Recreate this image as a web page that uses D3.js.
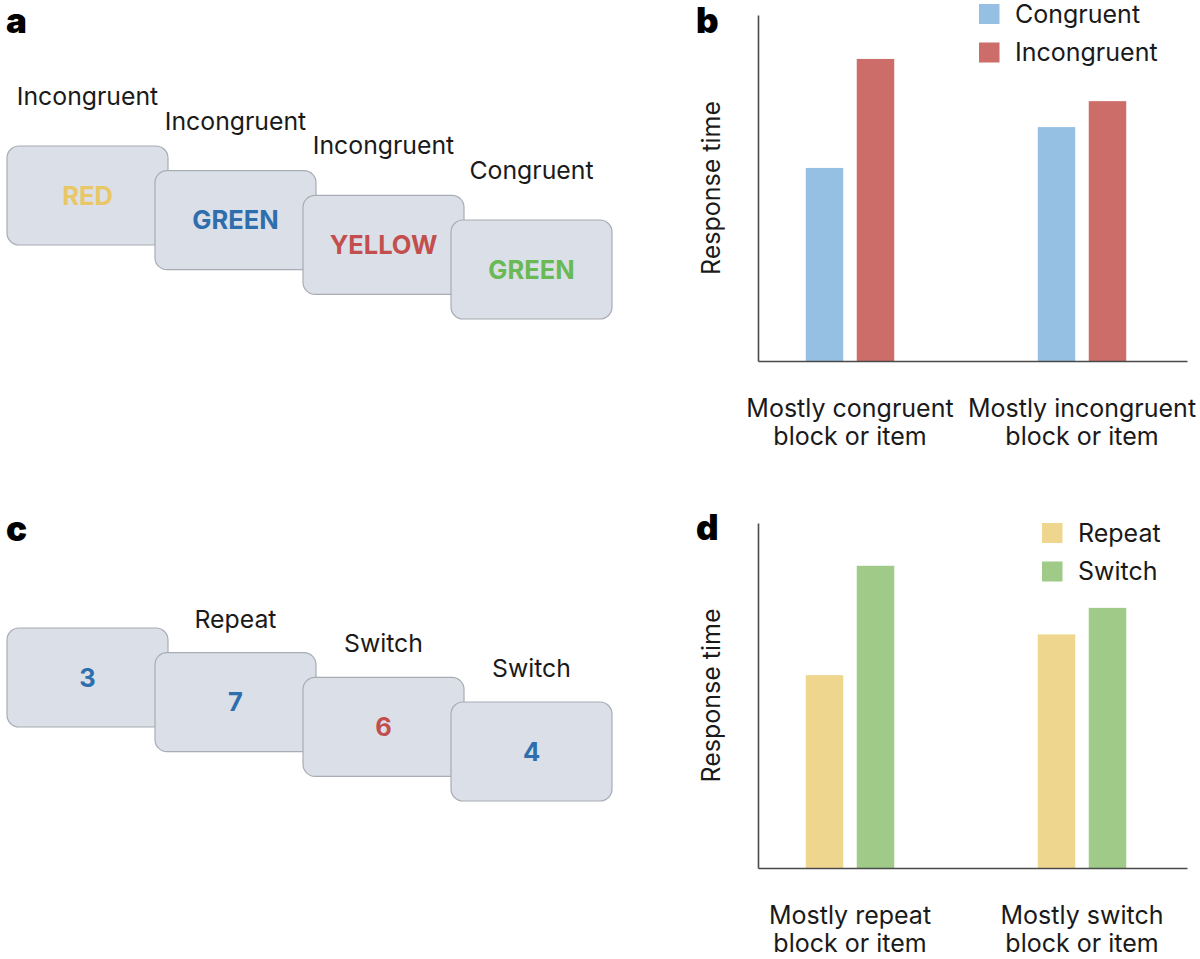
<!DOCTYPE html>
<html>
<head>
<meta charset="utf-8">
<script src="https://cdn.jsdelivr.net/npm/d3@7"></script>
<style>
  html, body { margin: 0; padding: 0; background: #fff; }
  svg { display: block; }
  text { font-family: Inter, "Noto Sans", sans-serif; fill: #1a1a1a; }
</style>
</head>
<body>
<svg id="chart" width="1200" height="959"></svg>
<script>
// ---------- data ----------
const panelLetters = ["a", "b", "c", "d"];

const cardWordsA = ["RED", "GREEN", "YELLOW", "GREEN"];
const cardInkA = ["yellow", "blue", "red", "green"];
const trialLabelsA = ["Incongruent", "Incongruent", "Incongruent", "Congruent"];

const cardDigitsC = ["3", "7", "6", "4"];
const cardInkC = ["blue", "blue", "red", "blue"];
const trialLabelsC = ["", "Repeat", "Switch", "Switch"];

const groupLabelsB = [["Mostly congruent", "block or item"], ["Mostly incongruent", "block or item"]];
const seriesB = ["Congruent", "Incongruent"];
const congruentValues = [55.8, 67.6];
const incongruentValues = [87.3, 75.1];

const groupLabelsD = [["Mostly repeat", "block or item"], ["Mostly switch", "block or item"]];
const seriesD = ["Repeat", "Switch"];
const repeatValues = [55.9, 67.7];
const switchValues = [87.6, 75.4];

const yAxisTitle = "Response time";

// ---------- styles ----------
const inkColors = { yellow: "#e9c767", blue: "#2f6eac", red: "#c24f4d", green: "#69b955" };
const seriesColorsB = { "Congruent": "#95c0e4", "Incongruent": "#cd6d69" };
const seriesColorsD = { "Repeat": "#efd68e", "Switch": "#9fca88" };
const labelSize = 25;

const svg = d3.select("#chart");

// panel letters
const letterPos = [[6, 33], [696, 33], [6, 541], [696, 540]];
svg.selectAll("text.letter").data(panelLetters).join("text")
  .attr("class", "letter")
  .attr("x", (d, i) => letterPos[i][0])
  .attr("y", (d, i) => letterPos[i][1])
  .attr("font-size", 35).attr("font-weight", 900)
  .style("fill", "#000")
  .text(d => d);

// ---------- card sequences ----------
function drawCards(g, words, inks, labels, top0, labelGap) {
  const idx = d3.range(words.length);
  const xs = d3.scaleLinear().domain([0, 3]).range([7, 451]);
  const ys = d3.scaleLinear().domain([0, 3]).range([top0, top0 + 74]);
  const cw = 161, ch = 99;
  const cards = g.selectAll("g.card").data(idx).join("g").attr("class", "card")
    .attr("transform", i => `translate(${xs(i)},${ys(i)})`);
  cards.append("rect")
    .attr("width", cw).attr("height", ch).attr("rx", 12).attr("ry", 12)
    .attr("fill", "#dbdfe8").attr("stroke", "#a8acb4").attr("stroke-width", 1.2);
  cards.append("text")
    .attr("x", cw / 2).attr("y", ch / 2 + 9)
    .attr("text-anchor", "middle")
    .attr("font-family", "Roboto, 'Open Sans', sans-serif")
    .attr("font-weight", 700).attr("font-size", 25.5)
    .style("fill", i => inkColors[inks[i]])
    .text(i => words[i]);
  g.selectAll("text.trial").data(idx).join("text").attr("class", "trial")
    .attr("x", i => xs(i) + cw / 2)
    .attr("y", i => ys(i) - labelGap)
    .attr("text-anchor", "middle")
    .attr("font-size", 24.8)
    .text(i => labels[i]);
}
drawCards(svg.append("g"), cardWordsA, cardInkA, trialLabelsA, 146, 41);
drawCards(svg.append("g"), cardDigitsC, cardInkC, trialLabelsC, 628, 25);

// ---------- bar charts ----------
function drawBars(g, series, valueArrays, groupLabels, colors, yTop, yBase, legendPos) {
  const groups = groupLabels.map(d => d.join(" "));
  const x0 = d3.scaleBand().domain(groups).range([734, 1198]).padding(0);
  const x1 = d3.scaleBand().domain(series).range([0, x0.bandwidth()])
    .paddingInner(0.265).paddingOuter(1.407);
  const y = d3.scaleLinear().domain([0, 100]).range([yBase, yTop]);

  const data = [];
  groups.forEach((gname, gi) => series.forEach((s, si) => data.push({ g: gname, s, v: valueArrays[si][gi] })));

  g.selectAll("rect.bar").data(data).join("rect").attr("class", "bar")
    .attr("x", d => x0(d.g) + x1(d.s))
    .attr("width", x1.bandwidth())
    .attr("y", d => y(d.v))
    .attr("height", d => yBase - y(d.v))
    .attr("fill", d => colors[d.s]);

  // axes (no ticks)
  const xAxis = d3.axisBottom(d3.scaleLinear().range([758, 1187])).tickValues([]).tickSizeOuter(0);
  g.append("g").attr("transform", `translate(0,${yBase})`).call(xAxis)
    .select(".domain").attr("stroke", "#4a4a4a").attr("stroke-width", 1.6);
  const yAxis = d3.axisLeft(y).tickValues([]).tickSizeOuter(0);
  g.append("g").attr("transform", `translate(758,0)`).call(yAxis)
    .select(".domain").attr("stroke", "#4a4a4a").attr("stroke-width", 1.6);

  // y title
  g.append("text")
    .attr("transform", `translate(720,${(yTop + yBase) / 2}) rotate(-90)`)
    .attr("text-anchor", "middle")
    .attr("font-size", labelSize)
    .text(yAxisTitle);

  // group labels
  groupLabels.forEach((lines, gi) => {
    const cx = x0(groups[gi]) + x0.bandwidth() / 2;
    lines.forEach((ln, li) => {
      g.append("text")
        .attr("x", cx).attr("y", yBase + 56 + li * 28)
        .attr("text-anchor", "middle")
        .attr("font-size", labelSize)
        .text(ln);
    });
  });

  // legend
  series.forEach((s, si) => {
    const ly = legendPos[1] + si * 38.5;
    g.append("rect").attr("x", legendPos[0]).attr("y", ly).attr("width", 20.5).attr("height", 20)
      .attr("fill", colors[s]);
    g.append("text").attr("x", legendPos[0] + 36).attr("y", ly + 18.5)
      .attr("font-size", labelSize).text(s);
  });
}
drawBars(svg.append("g"), seriesB, [congruentValues, incongruentValues], groupLabelsB, seriesColorsB, 15, 361, [979, 4]);
drawBars(svg.append("g"), seriesD, [repeatValues, switchValues], groupLabelsD, seriesColorsD, 523, 868, [1042, 523]);
</script>
</body>
</html>
